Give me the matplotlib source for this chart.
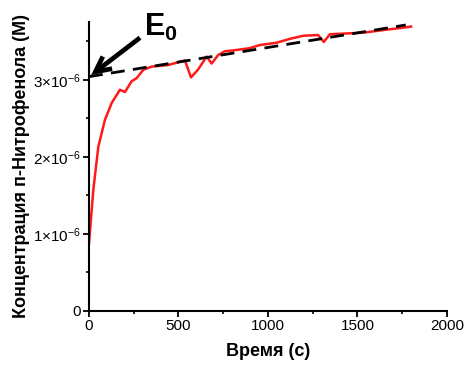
import matplotlib.pyplot as plt
import numpy as np

plt.rcParams["font.family"] = ["Liberation Sans", "DejaVu Sans"]
plt.rcParams["mathtext.fontset"] = "custom"
plt.rcParams["mathtext.rm"] = "Liberation Sans"
plt.rcParams["mathtext.it"] = "Liberation Sans:italic"
plt.rcParams["mathtext.bf"] = "Liberation Sans:bold"

# measured concentration (x1e-6 M) vs time (s)
time_s = [0, 24, 52, 89, 127, 173, 201, 238, 266, 304, 350, 441, 536, 570,
          609, 657, 685, 722, 760, 806, 899, 955, 1048, 1123, 1196, 1280,
          1312, 1346, 1440, 1532, 1598, 1663, 1740, 1800]
conc_um = [0.88, 1.57, 2.13, 2.48, 2.70, 2.87, 2.84, 2.98, 3.02, 3.13, 3.17,
           3.19, 3.25, 3.03, 3.13, 3.30, 3.21, 3.32, 3.37, 3.38, 3.41, 3.45,
           3.48, 3.53, 3.57, 3.58, 3.49, 3.59, 3.60, 3.61, 3.63, 3.65, 3.67,
           3.69]

# linear drift extrapolated back to t = 0 (E0)
fit_time = [0, 1770]
fit_conc = [3.04, 3.71]

y_ticks = [0, 1, 2, 3]
y_ticklabels = ["0", "1×10$^{-6}$", "2×10$^{-6}$", "3×10$^{-6}$"]
x_ticks = [0, 500, 1000, 1500, 2000]

fig = plt.figure(figsize=(4.67, 3.65), dpi=100)
ax = fig.add_axes([0.1906, 0.148, 0.7664, 0.792])

ax.plot(time_s, np.array(conc_um) * 1e-6, color="#ff1a1a", lw=1.8, zorder=2)
ax.plot(fit_time, np.array(fit_conc) * 1e-6, color="black", lw=2.0,
        dashes=(5, 3), zorder=3)

ax.annotate("", xy=(12, 3.06e-6), xytext=(285, 3.545e-6),
            arrowprops=dict(arrowstyle="->,head_length=1.1,head_width=0.55",
                            color="black", lw=3.4, shrinkA=0, shrinkB=0,
                            joinstyle="miter", capstyle="butt"),
            annotation_clip=False, zorder=4)
ax.text(310, 3.57e-6, "E$_\\mathbf{0}$", fontsize=22, fontweight="bold",
        ha="left", va="baseline", clip_on=False)

ax.set_xlim(0, 2000)
ax.set_ylim(0, 3.75e-6)
ax.set_xticks(x_ticks)
ax.set_xticks(np.arange(250, 2000, 500), minor=True)
ax.set_yticks(np.array(y_ticks) * 1e-6)
ax.set_yticklabels(y_ticklabels)
ax.set_yticks(np.arange(0.5, 3.75, 1.0) * 1e-6, minor=True)

for side in ["top", "right"]:
    ax.spines[side].set_visible(False)
for side in ["left", "bottom"]:
    ax.spines[side].set_linewidth(1.5)

ax.tick_params(which="major", direction="out", length=4, width=1.3,
               labelsize=11, pad=2)
ax.tick_params(which="minor", direction="out", length=2.5, width=1.2)

ax.set_xlabel("Время (с)", fontsize=13, fontweight="bold", labelpad=7)
ax.set_ylabel("Концентрация п-Нитрофенола (М)", fontsize=13,
              fontweight="bold", labelpad=2)

fig.savefig("out.png", dpi=100)
